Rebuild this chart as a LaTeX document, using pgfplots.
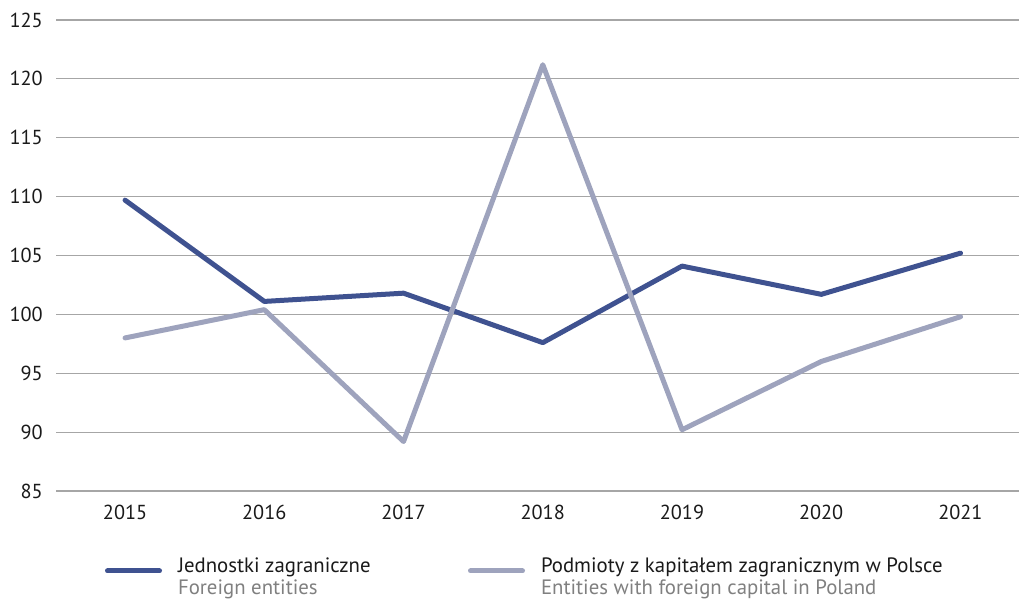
\documentclass[border=0pt]{standalone}
\usepackage{pgfplots}
\pgfplotsset{compat=1.18}
\usepackage{fontspec}
\setmainfont{PT Sans}
\definecolor{darkser}{HTML}{3F5290}
\definecolor{lightser}{HTML}{9EA3BD}
\definecolor{gridc}{HTML}{A6A6A6}
\definecolor{engc}{HTML}{808080}
\definecolor{txt}{HTML}{1A1A1A}
\begin{document}
\begin{tikzpicture}
\begin{axis}[
  name=ax,
  scale only axis, width=722.25pt, height=353.25pt,
  xmin=2014.504, xmax=2021.42, ymin=85, ymax=125,
  xtick={2015,...,2021}, ytick={85,90,...,125},
  /pgf/number format/assume math mode=true,
  /pgf/number format/set thousands separator={},
  axis line style={draw=none}, major tick length=0pt,
  ymajorgrids, grid style={gridc, line width=0.9pt},
  tick label style={font=\fontsize{15.2}{18}\selectfont, text=txt, inner sep=0pt},
  yticklabel style={anchor=east, xshift=-9.75pt},
  xticklabel style={anchor=north, yshift=-10.5pt},
  clip=false,
  legend columns=2,
  legend cell align=left,
  legend style={draw=none, fill=none, inner sep=0pt, outer sep=0pt,
    nodes={inner sep=0pt, outer sep=0pt},
    font=\fontsize{15.6}{16.8}\selectfont,
    at={(0,0)}, anchor=north west, xshift=36.75pt, yshift=-49pt,
    /tikz/every odd column/.append style={column sep=12pt}},
  legend image code/.code={\draw[#1, line cap=round] (1.875pt,0pt) -- (40.875pt,0pt);},
]
\addplot[darkser, line width=3.75pt, line cap=round, line join=round] coordinates {
  (2015,109.7) (2016,101.1) (2017,101.8) (2018,97.6) (2019,104.1) (2020,101.7) (2021,105.2)};
\addlegendentry{\makebox[217.5pt][l]{\begin{tabular}{@{}l@{}}\textcolor{txt}{Jednostki zagraniczne}\\\textcolor{engc}{Foreign entities}\end{tabular}}}
\addplot[lightser, line width=3.75pt, line cap=round, line join=round] coordinates {
  (2015,98.0) (2016,100.4) (2017,89.2) (2018,121.2) (2019,90.2) (2020,96.0) (2021,99.8)};
\addlegendentry{\begin{tabular}{@{}l@{}}\textcolor{txt}{Podmioty z kapitałem zagranicznym w Polsce}\\\textcolor{engc}{Entities with foreign capital in Poland}\end{tabular}}
\end{axis}
\pgfresetboundingbox
\path ([shift={(-42pt,368.25pt)}]ax.south west) rectangle ([shift={(722.25pt,-81pt)}]ax.south west);
\end{tikzpicture}
\end{document}
